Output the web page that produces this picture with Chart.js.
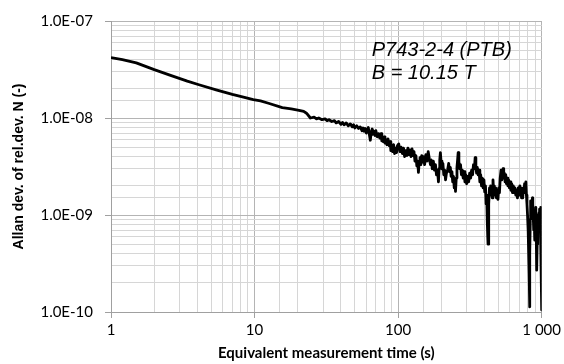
<!DOCTYPE html>
<html>
<head>
  <meta charset="UTF-8">
  <title>Allan deviation</title>
  <script src="https://cdn.jsdelivr.net/npm/chart.js"></script>
  <style>
    body {
      margin: 0;
      background: #fff;
    }
    canvas {
      display: block;
    }
  </style>
</head>
<body>
  <canvas id="adevChart" width="564" height="364"></canvas>

  <script>
    // averaging time (s)
    const tauValues = [
      1, 1.2, 1.5, 2.0, 2.6, 3.4, 4.1, 5.4, 7.0, 8.5,
      9.8, 11, 12.5, 15.6, 18, 20.4, 22, 23, 24.5, 26,
      27, 28, 29.5, 31, 32, 33, 34.5, 36, 37, 38.5,
      40, 41, 42, 43.5, 45, 46.5, 48, 49, 50, 51.5,
      53, 54.5, 56, 57, 58, 59, 60, 61, 62, 63,
      64, 65, 66, 67, 68, 69, 70, 71.5, 73, 74.5,
      76, 77, 78, 79, 80, 81, 82, 83.5, 85, 86.5,
      88, 89, 90, 91.5, 93, 94.5, 96, 97.5, 99, 101,
      103, 105, 107, 109, 111, 113, 115, 117, 119, 121,
      123, 125, 127, 129, 131, 133, 135, 137, 138.5, 140,
      142, 144, 146, 148, 150, 153, 156, 159, 162, 165,
      168, 170, 173, 176, 179, 182, 185, 188, 191, 193,
      195, 197, 199, 202, 205, 208, 211, 214, 217, 221,
      225, 228, 231, 234, 237, 240, 243, 246, 249, 251,
      254, 257, 260, 262, 265, 268, 272, 276, 280, 284,
      288, 292, 296, 300, 305, 310, 315, 320, 325, 330,
      335, 340, 344, 348, 352, 356, 361, 366, 371, 376,
      381, 386, 391, 396, 401, 406, 410, 414, 418, 421,
      423, 426, 429, 433, 437, 441, 445, 449, 453, 458,
      463, 468, 473, 478, 484, 490, 496, 502, 508, 514,
      521, 527, 533, 538, 544, 550, 556, 562, 568, 575,
      582, 589, 596, 603, 610, 618, 626, 634, 642, 651,
      660, 669, 678, 687, 696, 705, 712, 717, 724, 731,
      738, 745, 752, 760, 768, 776, 783, 790, 797, 805,
      812, 818, 823, 828, 833, 838, 844, 850, 856, 862,
      867, 873, 880, 886, 892, 898, 904, 910, 916, 921,
      925, 930, 935, 940, 946, 952, 958, 964, 970, 976,
      982, 988, 994, 1000
    ];

    // Allan deviation of relative deviation N (-)
    const adevValues = [
      4.2e-8, 4.0e-8, 3.7e-8, 3.15e-8, 2.75e-8, 2.4e-8, 2.2e-8, 1.95e-8, 1.75e-8, 1.63e-8,
      1.55e-8, 1.5e-8, 1.42e-8, 1.28e-8, 1.24e-8, 1.2e-8, 1.17e-8, 1.12e-8, 1.0e-8, 1.02e-8,
      9.8e-9, 1.0e-8, 9.6e-9, 9.8e-9, 9.4e-9, 9.6e-9, 9.2e-9, 9.4e-9, 8.9e-9, 9.2e-9,
      8.6e-9, 9.0e-9, 8.5e-9, 8.9e-9, 8.3e-9, 8.7e-9, 8.1e-9, 8.5e-9, 7.9e-9, 8.3e-9,
      7.8e-9, 8.1e-9, 7.4e-9, 7.9e-9, 7.3e-9, 7.8e-9, 7.0e-9, 7.6e-9, 8.0e-9, 6.8e-9,
      5.9e-9, 7.2e-9, 7.7e-9, 6.8e-9, 7.3e-9, 6.6e-9, 7.4e-9, 6.4e-9, 6.9e-9, 6.2e-9,
      6.9e-9, 5.8e-9, 6.4e-9, 5.7e-9, 6.4e-9, 5.5e-9, 6.0e-9, 5.3e-9, 6.1e-9, 5.2e-9,
      5.7e-9, 4.6e-9, 5.2e-9, 4.5e-9, 5.3e-9, 4.3e-9, 4.9e-9, 4.4e-9, 5.2e-9, 5.4e-9,
      4.5e-9, 5.0e-9, 4.3e-9, 4.9e-9, 4.0e-9, 4.6e-9, 4.1e-9, 4.9e-9, 4.2e-9, 4.7e-9,
      4.0e-9, 4.8e-9, 4.1e-9, 4.5e-9, 3.6e-9, 4.1e-9, 3.2e-9, 3.6e-9, 2.75e-9, 3.4e-9,
      3.9e-9, 3.3e-9, 4.1e-9, 3.5e-9, 4.0e-9, 3.3e-9, 4.2e-9, 3.6e-9, 4.5e-9, 3.8e-9,
      3.3e-9, 3.7e-9, 3.0e-9, 3.6e-9, 2.9e-9, 3.3e-9, 2.6e-9, 2.9e-9, 2.2e-9, 3.0e-9,
      3.7e-9, 4.4e-9, 3.6e-9, 3.0e-9, 3.4e-9, 2.6e-9, 2.9e-9, 2.3e-9, 2.7e-9, 2.9e-9,
      3.4e-9, 2.8e-9, 3.1e-9, 2.5e-9, 2.8e-9, 2.2e-9, 2.5e-9, 1.9e-9, 2.2e-9, 1.75e-9,
      2.4e-9, 3.1e-9, 3.8e-9, 4.4e-9, 3.6e-9, 3.0e-9, 3.3e-9, 2.6e-9, 2.9e-9, 2.4e-9,
      2.8e-9, 2.2e-9, 2.6e-9, 2.1e-9, 2.5e-9, 2.2e-9, 2.7e-9, 2.4e-9, 2.9e-9, 2.6e-9,
      3.3e-9, 3.0e-9, 3.9e-9, 3.2e-9, 2.7e-9, 3.1e-9, 2.6e-9, 2.9e-9, 2.2e-9, 2.6e-9,
      2.0e-9, 2.4e-9, 1.9e-9, 2.3e-9, 1.73e-9, 2.0e-9, 1.3e-9, 1.6e-9, 8.5e-10, 6e-10,
      5.0e-10, 8e-10, 1.3e-9, 1.9e-9, 1.6e-9, 2.0e-9, 1.6e-9, 1.9e-9, 1.5e-9, 2.3e-9,
      1.7e-9, 2.0e-9, 1.6e-9, 1.9e-9, 1.5e-9, 1.8e-9, 1.45e-9, 1.9e-9, 1.7e-9, 2.4e-9,
      2.9e-9, 2.3e-9, 2.7e-9, 3.0e-9, 2.4e-9, 2.7e-9, 2.2e-9, 2.6e-9, 2.1e-9, 2.4e-9,
      2.0e-9, 2.3e-9, 1.9e-9, 2.2e-9, 1.8e-9, 2.1e-9, 1.7e-9, 2.0e-9, 1.7e-9, 1.9e-9,
      1.6e-9, 1.8e-9, 1.5e-9, 1.9e-9, 1.6e-9, 2.0e-9, 1.7e-9, 1.9e-9, 1.5e-9, 1.8e-9,
      1.5e-9, 1.9e-9, 1.7e-9, 2.1e-9, 1.8e-9, 2.2e-9, 1.6e-9, 1.3e-9, 1.0e-9, 7e-10,
      4e-10, 2.5e-10, 1.13e-10, 4e-10, 9e-10, 1.4e-9, 1.0e-9, 1.3e-9, 1.0e-9, 1.5e-9,
      1.3e-9, 1.0e-9, 7e-10, 9e-10, 5.5e-10, 8e-10, 1.0e-9, 1.2e-9, 7e-10, 4e-10,
      2.7e-10, 5e-10, 9e-10, 7e-10, 1.0e-9, 8e-10, 1.05e-9, 9e-10, 1.15e-9, 9e-10,
      1.2e-9, 5e-10, 2e-10, 1.05e-10
    ];

    const xMajorTicks = [1, 10, 100, 1000];
    const xMajorLabels = ['1', '10', '100', '1 000'];
    const yMajorTicks = [1e-10, 1e-9, 1e-8, 1e-7];
    const yMajorLabels = ['1.0E-10', '1.0E-09', '1.0E-08', '1.0E-07'];

    const noteLines = ['P743-2-4 (PTB)', 'B = 10.15 T'];
    const noteTau = 65.5;
    const noteAdev = [4.31e-8, 2.52e-8];

    function majorIndex(v, majors) {
      return majors.findIndex(m => Math.abs(v / m - 1) < 1e-6);
    }
    function isMajor(ctx, majors) {
      return ctx.tick && majorIndex(ctx.tick.value, majors) >= 0;
    }

    const points = tauValues.map((t, i) => ({ x: t, y: adevValues[i] }));

    const notePlugin = {
      id: 'note',
      afterDatasetsDraw(chart) {
        const c = chart.ctx;
        const xs = chart.scales.x;
        const ys = chart.scales.y;
        c.save();
        c.font = 'italic 20px "Liberation Sans", Arial, sans-serif';
        c.fillStyle = '#000';
        c.textBaseline = 'alphabetic';
        c.textAlign = 'left';
        noteLines.forEach((txt, i) => {
          c.fillText(txt, xs.getPixelForValue(noteTau), ys.getPixelForValue(noteAdev[i]));
        });
        c.restore();
      }
    };

    const ctx = document.getElementById('adevChart').getContext('2d');
    new Chart(ctx, {
      type: 'line',
      data: {
        datasets: [{
          data: points,
          borderColor: '#000',
          borderWidth: 2.8,
          borderJoinStyle: 'round',
          pointRadius: 0,
          tension: 0,
          fill: false
        }]
      },
      options: {
        responsive: false,
        animation: false,
        devicePixelRatio: 1,
        layout: { padding: { top: 16, right: 20, left: 0, bottom: 0 } },
        plugins: {
          legend: { display: false },
          tooltip: { enabled: false }
        },
        scales: {
          x: {
            type: 'logarithmic',
            min: 1,
            max: 1000,
            border: { color: '#a0a0a0' },
            grid: {
              color: c => isMajor(c, xMajorTicks) ? '#b4b4b4' : '#d6d6d6',
              tickColor: c => isMajor(c, xMajorTicks) ? '#a0a0a0' : 'rgba(0,0,0,0)',
              tickLength: 6
            },
            ticks: {
              autoSkip: false,
              maxRotation: 0,
              padding: 3,
              color: '#000',
              font: { family: 'Lato', size: 15 },
              callback: v => {
                const i = majorIndex(v, xMajorTicks);
                return i >= 0 ? xMajorLabels[i] : '';
              }
            },
            title: {
              display: true,
              text: 'Equivalent measurement time (s)',
              color: '#000',
              font: { family: 'Lato', size: 15, weight: 'bold' },
              padding: { top: 0, bottom: 2 }
            },
            afterFit: s => { s.height = 52; }
          },
          y: {
            type: 'logarithmic',
            min: 1e-10,
            max: 1e-7,
            border: { color: '#a0a0a0' },
            grid: {
              color: c => isMajor(c, yMajorTicks) ? '#b4b4b4' : '#d6d6d6',
              tickColor: c => isMajor(c, yMajorTicks) ? '#a0a0a0' : 'rgba(0,0,0,0)',
              tickLength: 6
            },
            ticks: {
              autoSkip: false,
              padding: 12,
              color: '#000',
              font: { family: 'Lato', size: 15 },
              callback: v => {
                const i = majorIndex(v, yMajorTicks);
                return i >= 0 ? yMajorLabels[i] : '';
              }
            },
            title: {
              display: true,
              text: 'Allan dev. of rel.dev. N (-)',
              color: '#000',
              font: { family: '"Liberation Sans", Arial', size: 14, weight: 'bold' },
              padding: { top: 11, bottom: 0 }
            },
            afterFit: s => { s.width = 111; }
          }
        }
      },
      plugins: [notePlugin]
    });
  </script>
</body>
</html>
